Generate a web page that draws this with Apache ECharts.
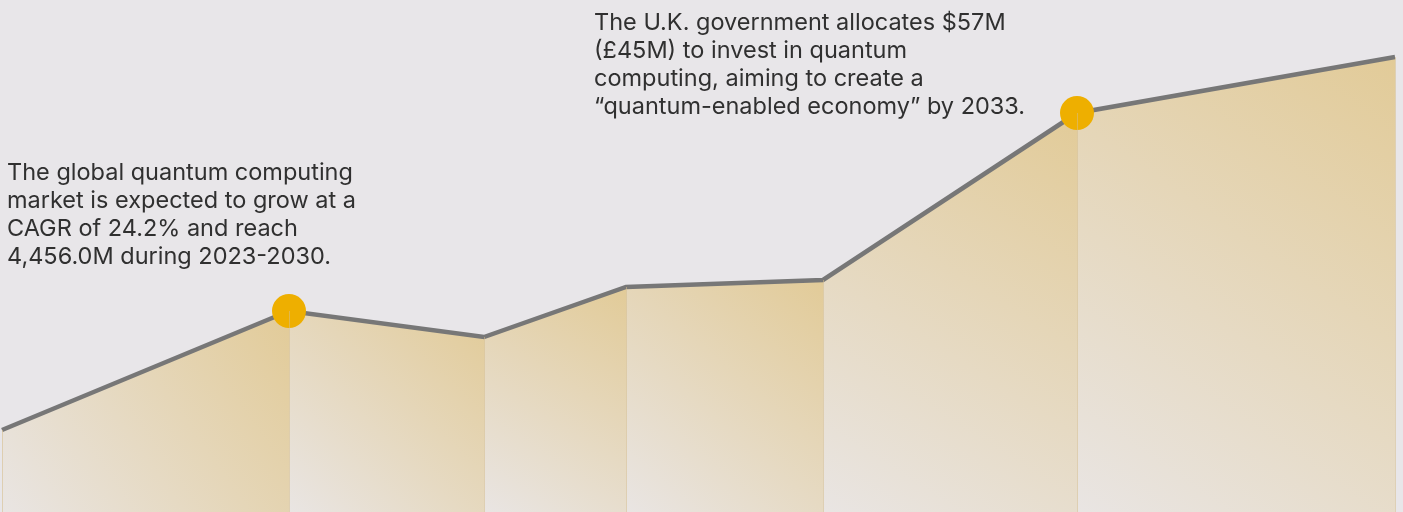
<!DOCTYPE html>
<html>
<head>
<meta charset="utf-8">
<script src="https://cdn.jsdelivr.net/npm/echarts@6/dist/echarts.min.js"></script>
<style>
html,body{margin:0;padding:0;background:#E8E6E9;}
#chart{width:1403px;height:512px;}
</style>
</head>
<body>
<div id="chart"></div>
<script>
// Timeline positions (horizontal units) and market level values
const xPositions = [2, 289, 484, 626, 823, 1077, 1395];
const levels = [82, 201, 175, 225, 232, 399, 455];
const highlightIndex = [1, 5];
const notes = [
  "The global quantum computing\nmarket is expected to grow at a\nCAGR of 24.2% and reach\n4,456.0M during 2023-2030.",
  "The U.K. government allocates $57M\n(£45M) to invest in quantum\ncomputing, aiming to create a\n“quantum-enabled economy” by 2033."
];

const chart = echarts.init(document.getElementById('chart'));
const points = xPositions.map((x, i) => [x, levels[i]]);
const series = [];
for (let i = 0; i < points.length - 1; i++) {
  series.push({
    type: 'line',
    data: [points[i], points[i + 1]],
    symbol: 'none',
    lineStyle: { width: 0 },
    silent: true,
    z: 1,
    areaStyle: {
      opacity: 1,
      color: new echarts.graphic.LinearGradient(0, 1, 1, 0, [
        { offset: 0, color: '#E9E5E3' },
        { offset: 1, color: '#E2CB98' }
      ])
    }
  });
}
// vertical dividers
series.push({
  type: 'line',
  data: [],
  silent: true,
  z: 2,
  markLine: {
    silent: true,
    symbol: 'none',
    label: { show: false },
    lineStyle: { color: 'rgba(214,190,140,0.55)', width: 1, type: 'solid' },
    data: points.map(p => [{ coord: [p[0], 0] }, { coord: [p[0], p[1]] }])
  }
});
series.push({
  type: 'line',
  data: points,
  symbol: 'none',
  z: 3,
  lineStyle: { color: '#777777', width: 4.5, join: 'miter' }
});
series.push({
  type: 'scatter',
  data: highlightIndex.map(i => points[i]),
  symbolSize: 34,
  z: 4,
  itemStyle: { color: '#EEAF00', opacity: 1 }
});

chart.setOption({
  backgroundColor: '#E8E6E9',
  animation: false,
  grid: { left: 0, right: 0, top: 0, bottom: 0 },
  xAxis: { type: 'value', min: 0, max: 1403, show: false },
  yAxis: { type: 'value', min: 0, max: 512, show: false },
  graphic: [
    { type: 'text', left: 7, top: 159, style: { text: notes[0], font: '23.5px Inter', fill: '#303030', lineHeight: 28 } },
    { type: 'text', left: 594, top: 9, style: { text: notes[1], font: '23.5px Inter', fill: '#303030', lineHeight: 28 } }
  ],
  series: series
});
</script>
</body>
</html>
